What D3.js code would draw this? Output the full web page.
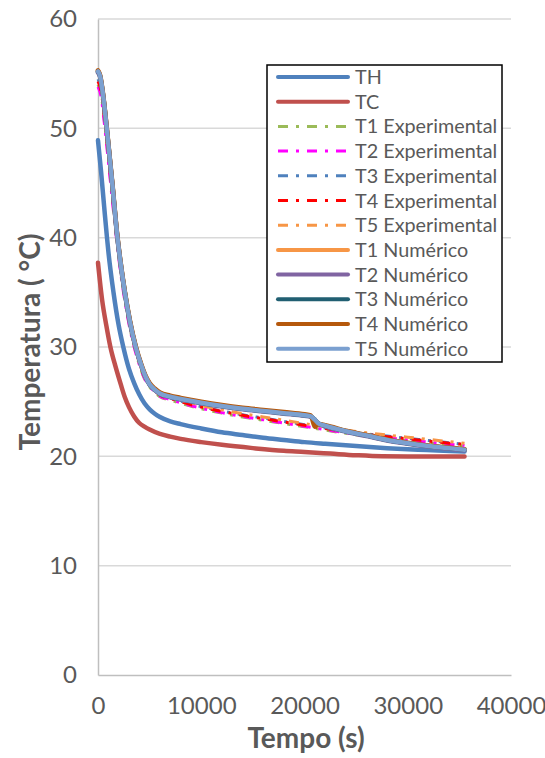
<!DOCTYPE html>
<html><head><meta charset="utf-8">
<script src="https://cdn.jsdelivr.net/npm/d3@7"></script>
<style>body{margin:0;background:#fff} svg{display:block}</style>
</head><body><svg id="c" width="545" height="758"></svg>
<script>
// ---- data ----
const xTicks = [0, 10000, 20000, 30000, 40000];
const yTicks = [0, 10, 20, 30, 40, 50, 60];

const timeTH = [0,300,600,870,1030,1500,2000,2450,3000,3500,4000,4500,5000,5500,6000,7000,8000,10000,12000,14000,16000,18000,20000,22000,25000,28000,31000,35500];
const TH = [48.9,46.0,42.8,40.0,38.5,35.0,32.0,30.0,28.0,26.7,25.65,24.85,24.3,23.9,23.6,23.2,22.95,22.55,22.2,21.95,21.7,21.5,21.3,21.15,20.95,20.75,20.6,20.45];

const timeTC = [0,400,800,1200,1700,2200,2600,3000,3500,4000,4500,5000,6000,7000,8000,10000,12000,15000,18000,20000,22500,25000,27500,30000,35500];
const TC = [37.7,34.3,32.0,30.0,28.2,26.6,25.4,24.5,23.65,23.05,22.72,22.45,22.05,21.8,21.6,21.3,21.05,20.75,20.5,20.4,20.25,20.1,20.0,19.98,19.98];

const timeExp = [0,300,600,1000,1500,2000,2500,3000,3500,4000,4500,5000,5500,6000,7000,8000,10000,12000,14000,16000,18000,20000,22000,24000,26000,28000,30000,32000,34000,35500];
const T1exp = [54.0,53.1,50.9,47.3,42.7,38.4,35.0,32.2,30.1,28.4,27.1,26.35,25.85,25.45,25.15,24.85,24.35,23.95,23.6,23.3,23.0,22.7,22.4,22.1,21.85,21.65,21.45,21.25,21.05,20.95];
const T2exp = [53.8,52.9,50.6,47.0,42.4,38.2,34.8,32.1,30.0,28.4,27.15,26.4,25.9,25.5,25.2,24.9,24.4,24.0,23.65,23.35,23.05,22.75,22.45,22.15,21.9,21.7,21.5,21.3,21.1,21.0];
const T3exp = [54.5,53.6,51.4,47.8,43.2,38.9,35.3,32.5,30.4,28.7,27.4,26.55,26.05,25.65,25.35,25.05,24.55,24.15,23.8,23.5,23.2,22.9,22.6,22.3,22.05,21.85,21.65,21.45,21.25,21.1];
const T4exp = [54.3,53.4,51.2,47.6,43.0,38.7,35.2,32.4,30.3,28.6,27.3,26.5,26.0,25.6,25.3,25.0,24.5,24.1,23.75,23.45,23.15,22.85,22.55,22.25,22.0,21.8,21.6,21.4,21.2,21.1];
const T5exp = [55.2,54.2,51.8,48.0,43.4,39.0,35.5,32.6,30.5,28.8,27.5,26.7,26.2,25.8,25.45,25.15,24.65,24.25,23.9,23.6,23.3,23.0,22.7,22.4,22.15,21.95,21.75,21.55,21.35,21.2];

const timeNum = [0,200,500,900,1400,1850,2200,2600,3100,3650,4200,4600,5000,5500,6000,7000,8000,10000,12000,14000,16000,18000,20000,20600,21000,21300,22000,24000,26000,28000,30000,32000,34000,35500];
const T1num = [55.2,54.8,53.0,49.5,44.8,40.3,37.6,35.0,32.3,30.0,28.3,27.3,26.6,26.1,25.75,25.45,25.25,24.9,24.6,24.35,24.15,23.95,23.75,23.65,23.35,23.05,22.8,22.3,21.9,21.5,21.2,20.95,20.75,20.6];
const T2num = [55.1,54.7,52.9,49.4,44.7,40.2,37.5,34.9,32.2,29.95,28.25,27.25,26.55,26.05,25.7,25.4,25.2,24.85,24.55,24.3,24.1,23.9,23.7,23.6,23.3,23.0,22.75,22.25,21.85,21.45,21.15,20.9,20.7,20.55];
const T3num = [55.2,54.8,53.0,49.5,44.8,40.3,37.6,35.0,32.3,30.0,28.3,27.3,26.6,26.1,25.75,25.45,25.25,24.9,24.6,24.35,24.15,23.95,23.75,23.65,23.35,23.05,22.8,22.3,21.9,21.5,21.2,20.95,20.75,20.6];
const T4num = [55.3,54.9,53.1,49.6,44.9,40.4,37.7,35.1,32.4,30.1,28.4,27.4,26.7,26.2,25.85,25.55,25.35,25.0,24.7,24.45,24.25,24.05,23.85,23.75,22.7,22.95,22.85,22.35,21.95,21.55,21.25,21.0,20.8,20.65];
const T5num = [55.2,54.8,53.0,49.5,44.8,40.3,37.6,35.0,32.3,30.0,28.3,27.3,26.6,26.1,25.75,25.45,25.25,24.9,24.6,24.35,24.15,23.95,23.75,23.65,23.35,23.05,22.8,22.3,21.9,21.5,21.2,20.95,20.75,20.6];

const seriesNames = ["TH","TC","T1 Experimental","T2 Experimental","T3 Experimental","T4 Experimental","T5 Experimental","T1 Numérico","T2 Numérico","T3 Numérico","T4 Numérico","T5 Numérico"];
const seriesColors = ["#4F81BD","#C0504D","#9BBB59","#FF00FF","#4F81BD","#FF0000","#F79646","#F79646","#8064A2","#215F72","#B5580C","#7BA0D0"];
const seriesDashed = [false,false,true,true,true,true,true,false,false,false,false,false];
const seriesTimes = [timeTH,timeTC,timeExp,timeExp,timeExp,timeExp,timeExp,timeNum,timeNum,timeNum,timeNum,timeNum];
const seriesValues = [TH,TC,T1exp,T2exp,T3exp,T4exp,T5exp,T1num,T2num,T3num,T4num,T5num];

// ---- chart ----
const FONT = "Lato, 'Open Sans', sans-serif";
const svg = d3.select('#c');
const x = d3.scaleLinear().domain([0, 40000]).range([98, 511]);
const y = d3.scaleLinear().domain([0, 60]).range([675, 19]);

// gridlines
svg.append('g').selectAll('line').data(yTicks.filter(d => d > 0)).join('line')
  .attr('x1', x(0)).attr('x2', x(40000))
  .attr('y1', d => y(d)).attr('y2', d => y(d))
  .attr('stroke', '#D9D9D9').attr('stroke-width', 1.5);

// axes
const yAxis = svg.append('g').attr('transform', `translate(${x(0)},0)`)
  .call(d3.axisLeft(y).tickValues(yTicks).tickSize(0).tickSizeOuter(0).tickPadding(21));
const xAxis = svg.append('g').attr('transform', `translate(0,${y(0)})`)
  .call(d3.axisBottom(x).tickValues(xTicks).tickSize(0).tickSizeOuter(0).tickPadding(22).tickFormat(d3.format('d')));
[yAxis, xAxis].forEach(g => {
  g.select('.domain').attr('stroke', '#BFBFBF').attr('stroke-width', 1.5);
  g.selectAll('text').attr('fill', '#595959').style('font-family', FONT).style('font-size', '24px');
});

// lines
const line = d3.line().curve(d3.curveMonotoneX);
seriesNames.forEach((name, i) => {
  const pts = seriesTimes[i].map((t, j) => [x(t), y(seriesValues[i][j])]);
  svg.append('path').attr('d', line(pts))
    .attr('fill', 'none')
    .attr('stroke', seriesColors[i])
    .attr('stroke-width', seriesDashed[i] ? 3 : 4.5)
    .attr('stroke-linejoin', 'round')
    .attr('stroke-linecap', seriesDashed[i] ? 'butt' : 'round')
    .attr('stroke-dasharray', seriesDashed[i] ? '10,8,3,8' : null);
});

// axis titles
svg.append('text').attr('x', 306).attr('y', 748).attr('text-anchor', 'middle')
  .attr('fill', '#595959').style('font-family', FONT).style('font-weight', 'bold').style('font-size', '28px')
  .text('Tempo (s)');
svg.append('text').attr('transform', `translate(40,342) rotate(-90)`).attr('text-anchor', 'middle')
  .attr('fill', '#595959').style('font-family', FONT).style('font-weight', 'bold').style('font-size', '28px')
  .text('Temperatura ( °C)');

// legend
const lg = svg.append('g');
lg.append('rect').attr('x', 267).attr('y', 65).attr('width', 235).attr('height', 297)
  .attr('fill', '#fff').attr('stroke', '#000').attr('stroke-width', 1.5);
seriesNames.forEach((name, i) => {
  const cy = 77 + i * 24.7;
  lg.append('line').attr('x1', 278).attr('x2', 348).attr('y1', cy).attr('y2', cy)
    .attr('stroke', seriesColors[i])
    .attr('stroke-width', seriesDashed[i] ? 3 : 4)
    .attr('stroke-linecap', seriesDashed[i] ? 'butt' : 'round')
    .attr('stroke-dasharray', seriesDashed[i] ? '10,8,3,8' : null);
  lg.append('text').attr('x', 355).attr('y', cy + 7)
    .attr('fill', '#595959').style('font-family', FONT).style('font-size', '19.8px')
    .text(name);
});
</script></body></html>
